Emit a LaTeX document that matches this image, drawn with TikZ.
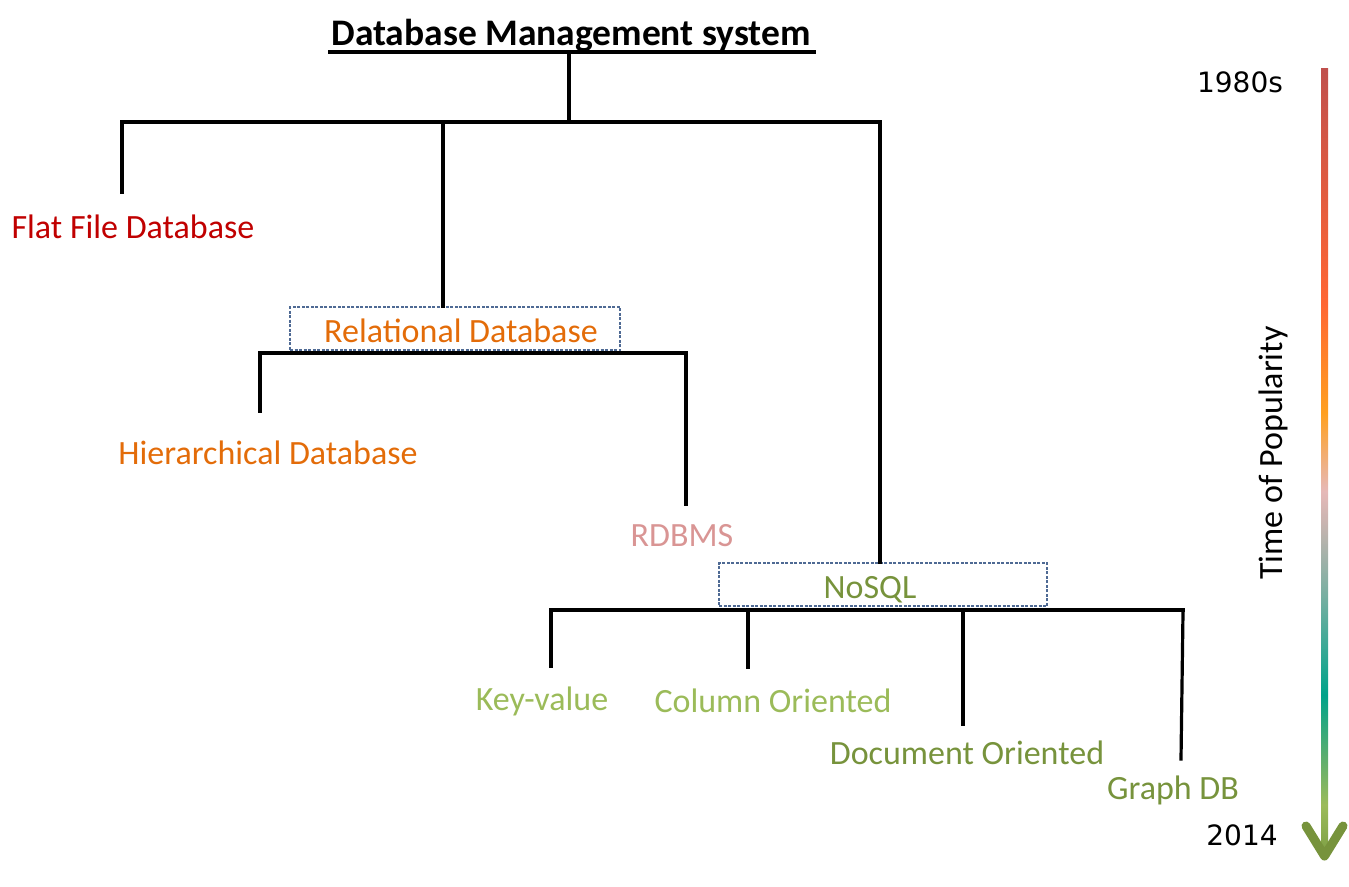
\documentclass[tikz,border=0pt]{standalone}
\usepackage{fontspec}
\setmainfont{Carlito}
\newfontfamily\yearfont{DejaVu Sans}
\definecolor{cFlat}{HTML}{C00000}
\definecolor{cOrange}{HTML}{E36C09}
\definecolor{cPink}{HTML}{D99594}
\definecolor{cOlive}{HTML}{77933C}
\definecolor{cLight}{HTML}{9BBB59}
\definecolor{cBox}{HTML}{4F6A94}
\definecolor{g0}{HTML}{7FA046}
\definecolor{g1}{HTML}{9BBB59}
\definecolor{g2}{HTML}{5DAE6E}
\definecolor{g3}{HTML}{00A38A}
\definecolor{g4}{HTML}{7AAFA2}
\definecolor{g5}{HTML}{C8B4B0}
\definecolor{g6}{HTML}{E6B9B8}
\definecolor{g7}{HTML}{FFA020}
\definecolor{g8}{HTML}{FF6633}
\definecolor{g9}{HTML}{C0504D}
\pgfdeclareverticalshading{popgrad}{100bp}{color(0bp)=(g0); color(25bp)=(g0); color(28bp)=(g1); color(31bp)=(g2); color(35bp)=(g3); color(41.5bp)=(g4); color(46bp)=(g5); color(48bp)=(g6); color(53bp)=(g7); color(60bp)=(g8); color(75bp)=(g9); color(100bp)=(g9)}
\begin{document}
\begin{tikzpicture}[x=1pt,y=-1pt,
  conn/.style={line width=3.2pt,black,line cap=rect},
  lbl/.style={inner sep=0pt,anchor=base,font=\fontsize{34}{40}\selectfont},
  dbox/.style={draw=cBox,line width=1.2pt,dash pattern=on 3pt off 1.5pt,inner sep=0pt}]
\useasboundingbox (0,0) rectangle (1349,886);
% title
\node[lbl,font=\bfseries\fontsize{37.5}{42}\selectfont] (title) at (571,45) {Database Management system};
\coordinate (ulL) at (328,52);
\coordinate (ulR) at (816,52);
\draw[line width=3.2pt] (ulL) -- (ulR);
\coordinate (ul) at (569,52);
% level 1
\coordinate (j0) at (569,122);
\coordinate (b0L) at (122,122);
\coordinate (b0R) at (880,122);
\coordinate (flatTop) at (122,122);
\coordinate (flatEnd) at (122,192);
\coordinate (relTop) at (443,124);
\coordinate (noTop) at (880,124);
\draw[conn] (ul) -- (j0);
\draw[conn] (b0L) -- (b0R);
\draw[conn] (flatTop) -- (flatEnd);
\node[lbl,text=cFlat] (flat) at (133,238) {Flat File Database};
% relational
\node[dbox,minimum width=330pt,minimum height=43pt] (relbox) at (455,328.5) {};
\node[lbl,text=cOrange] (rel) at (461,342) {Relational Database};
\draw[conn] (relTop) -- (relbox.north -| relTop);
\coordinate (b1L) at (260,353);
\coordinate (b1R) at (686,353);
\coordinate (hierEnd) at (260,411);
\coordinate (rdbEnd) at (686,504);
\draw[conn] (b1L) -- (b1R);
\draw[conn] (b1L) -- (hierEnd);
\draw[conn] (b1R) -- (rdbEnd);
\node[lbl,text=cOrange] (hier) at (268,464) {Hierarchical Database};
\node[lbl,text=cPink] (rdbms) at (682,546) {RDBMS};
% nosql
\node[dbox,minimum width=328pt,minimum height=43pt] (nobox) at (883,584.5) {};
\node[lbl,text=cOlive] (nosql) at (870,598) {NoSQL};
\draw[conn] (noTop) -- (nobox.north -| noTop);
\coordinate (b2L) at (551,610);
\coordinate (b2R) at (1183,610);
\draw[conn] (b2L) -- (b2R);
\coordinate (kvEnd) at (551,666);
\coordinate (coTop) at (748,612);
\coordinate (coEnd) at (748,667);
\coordinate (doTop) at (963,612);
\coordinate (doEnd) at (963,724);
\coordinate (grTop) at (1183,612);
\coordinate (grEnd) at (1181,759);
\draw[conn] (b2L) -- (kvEnd);
\draw[conn] (coTop) -- (coEnd);
\draw[conn] (doTop) -- (doEnd);
\draw[conn] (grTop) -- (grEnd);
\node[lbl,text=cLight] (kv) at (542,710) {Key-value};
\node[lbl,text=cLight] (col) at (773,712) {Column Oriented};
\node[lbl,text=cOlive] (doc) at (967,764) {Document Oriented};
\node[lbl,text=cOlive] (graph) at (1173,799) {Graph DB};
% time axis
\node[inner sep=0pt,anchor=base,font=\yearfont\fontsize{28}{32}\selectfont] (y1980) at (1240,92) {1980s};
\node[inner sep=0pt,anchor=base,font=\yearfont\fontsize{28}{32}\selectfont] (y2014) at (1242,845) {2014};
\node[inner sep=0pt,rotate=90,font=\fontsize{34}{40}\selectfont] (pop) at (1273,453) {Time of Popularity};
\coordinate (arTop) at (1321,68);
\coordinate (arBot) at (1328,852);
\shade[shading=popgrad] (arTop) rectangle (arBot);
\coordinate (ahL) at (1306,826);
\coordinate (ahT) at (1324.5,856);
\coordinate (ahR) at (1343,826);
\draw[cOlive,line width=9pt,line cap=round,line join=round] (ahL) -- (ahT) -- (ahR);
\end{tikzpicture}
\end{document}
